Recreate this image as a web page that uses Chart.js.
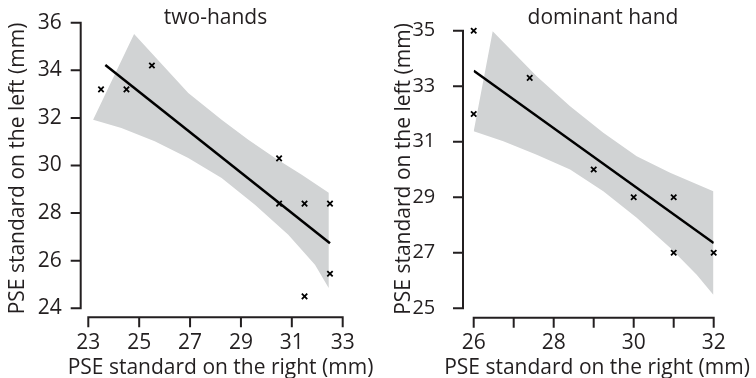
<!DOCTYPE html>
<html>
<head>
<meta charset="utf-8">
<script src="https://cdn.jsdelivr.net/npm/chart.js@4.4.0/dist/chart.umd.min.js"></script>
<style>
  html, body { margin: 0; padding: 0; background: #fff; }
  #wrap { position: relative; width: 756px; height: 378px; }
  .panel { position: absolute; top: 0; width: 378px; height: 378px; }
</style>
</head>
<body>
<div id="wrap">
  <div class="panel" style="left:0"><canvas id="chart-two" width="378" height="378"></canvas></div>
  <div class="panel" style="left:378px"><canvas id="chart-dom" width="378" height="378"></canvas></div>
</div>
<script>
// --- two-hands panel ---
var twoX = [23.5, 24.5, 25.5, 30.5, 30.5, 31.5, 32.5, 32.5, 31.5];
var twoY = [33.2, 33.2, 34.2, 30.3, 28.4, 28.4, 28.4, 25.45, 24.5];
var twoFitX = [23.67, 32.5];
var twoFitY = [34.22, 26.73];
var twoBandUpX = [24.8, 26.93, 28.24, 29.29, 30.34, 31.39, 32.45];
var twoBandUpY = [35.53, 33.05, 31.92, 31.08, 30.32, 29.61, 28.86];
var twoBandLoX = [23.19, 24.3, 25.61, 26.93, 28.24, 29.55, 30.86, 31.91, 32.45];
var twoBandLoY = [31.92, 31.58, 31.02, 30.32, 29.47, 28.35, 27.09, 25.83, 24.85];
var twoTicksX = [23, 25, 27, 29, 31, 33];
var twoTicksY = [24, 26, 28, 30, 32, 34, 36];

// --- dominant hand panel ---
var domX = [26, 26, 27.4, 29, 30, 31, 31, 32];
var domY = [35, 32, 33.3, 30, 29, 29, 27, 27];
var domFitX = [26, 32];
var domFitY = [33.56, 27.35];
var domBandUpX = [26.475, 27.575, 28.41, 29.24, 30.075, 30.91, 31.99];
var domBandUpY = [34.98, 33.36, 32.28, 31.32, 30.48, 29.88, 29.22];
var domBandLoX = [26.0, 26.74, 27.575, 28.41, 29.24, 30.075, 30.91, 31.575, 31.99];
var domBandLoY = [31.38, 31.02, 30.53, 30.0, 29.22, 28.26, 27.18, 26.21, 25.49];
var domTicksX = [26, 28, 30, 32];
var domMinorX = [27, 29, 31];
var domTicksY = [25, 27, 29, 31, 33, 35];

var X_TITLE = 'PSE standard on the right (mm)';
var Y_TITLE = 'PSE standard on the left (mm)';

var INK = '#231f20';
var FAMILY = "'Open Sans', sans-serif";

function pts(xs, ys) {
    return xs.map(function(x, i) { return {x: x, y: ys[i]}; });
}

// closed outline: upper edge left to right, then lower edge back
function band(upX, upY, loX, loY) {
    var out = pts(upX, upY).concat(pts(loX, loY).reverse());
    out.push(out[0]);
    return out;
}

// trimmed, detached axis lines + panel/axis titles
var spines = {
    id: 'spines',
    afterDraw: function(chart, args, o) {
        var ctx = chart.ctx, area = chart.chartArea;
        var xs = chart.scales.x, ys = chart.scales.y;
        ctx.save();
        ctx.strokeStyle = INK;
        ctx.lineWidth = 2;
        ctx.lineCap = 'square';
        ctx.beginPath();
        var sx = area.left - o.gapY;
        ctx.moveTo(sx, ys.getPixelForValue(o.yTicks[0]));
        ctx.lineTo(sx, ys.getPixelForValue(o.yTicks[o.yTicks.length - 1]));
        o.yTicks.forEach(function(v) {
            var p = ys.getPixelForValue(v);
            ctx.moveTo(sx, p);
            ctx.lineTo(sx - o.tick, p);
        });
        var sy = area.bottom + o.gapX;
        ctx.moveTo(xs.getPixelForValue(o.xTicks[0]), sy);
        ctx.lineTo(xs.getPixelForValue(o.xTicks[o.xTicks.length - 1]), sy);
        o.xTicks.concat(o.xMinor || []).forEach(function(v) {
            var p = xs.getPixelForValue(v);
            ctx.moveTo(p, sy);
            ctx.lineTo(p, sy + o.tick);
        });
        ctx.stroke();

        ctx.fillStyle = INK;
        ctx.font = '21px ' + FAMILY;
        ctx.textAlign = 'center';
        ctx.textBaseline = 'alphabetic';
        ctx.fillText(o.title, o.titleX, 24);
        ctx.fillText(X_TITLE, o.xTitleX, 373.5);
        ctx.translate(o.yTitleX, o.yTitleY);
        ctx.rotate(-Math.PI / 2);
        ctx.fillText(Y_TITLE, 0, 0);
        ctx.restore();
    }
};

function makeChart(id, c) {
    return new Chart(document.getElementById(id), {
        type: 'scatter',
        data: {
            datasets: [
                {
                    data: pts(c.x, c.y),
                    pointStyle: 'crossRot',
                    pointRadius: 3.8,
                    borderColor: '#000',
                    backgroundColor: '#000',
                    borderWidth: 1.8,
                    clip: false,
                    order: 1
                },
                {
                    data: pts(c.fitX, c.fitY),
                    showLine: true,
                    borderColor: '#000',
                    borderWidth: 2.5,
                    pointRadius: 0,
                    order: 2
                },
                {
                    data: band(c.upX, c.upY, c.loX, c.loY),
                    showLine: true,
                    fill: 'shape',
                    backgroundColor: '#d1d3d4',
                    borderColor: 'rgba(0,0,0,0)',
                    borderWidth: 0,
                    pointRadius: 0,
                    tension: 0,
                    order: 3
                }
            ]
        },
        options: {
            responsive: false,
            animation: false,
            events: [],
            layout: {padding: {left: 0, top: c.top, right: c.right, bottom: 0}},
            plugins: {
                legend: {display: false},
                tooltip: {enabled: false},
                spines: {
                    xTicks: c.ticksX, xMinor: c.minorX, yTicks: c.ticksY,
                    gapX: c.gapX, gapY: c.gapY, tick: 9,
                    title: c.title, titleX: c.titleX,
                    xTitleX: c.xTitleX, yTitleX: c.yTitleX, yTitleY: c.yTitleY
                }
            },
            scales: {
                x: {
                    type: 'linear',
                    min: c.ticksX[0],
                    max: c.ticksX[c.ticksX.length - 1],
                    grid: {display: false, drawTicks: false},
                    border: {display: false},
                    afterBuildTicks: function(s) { s.ticks = c.ticksX.map(function(v) { return {value: v}; }); },
                    afterFit: function(s) {
                        s.height = 69.7;
                        s.paddingLeft = 0;
                        s.paddingRight = 0;
                    },
                    ticks: {padding: 22, color: INK, font: {family: FAMILY, size: 21}, maxRotation: 0, autoSkip: false}
                },
                y: {
                    type: 'linear',
                    min: c.ticksY[0],
                    max: c.ticksY[c.ticksY.length - 1],
                    grid: {display: false, drawTicks: false},
                    border: {display: false},
                    afterBuildTicks: function(s) { s.ticks = c.ticksY.map(function(v) { return {value: v}; }); },
                    afterFit: function(s) {
                        s.width = c.left;
                        s.paddingTop = 0;
                        s.paddingBottom = 0;
                    },
                    ticks: {padding: c.yPad, color: INK, font: {family: FAMILY, size: c.ySize}, autoSkip: false}
                }
            }
        },
        plugins: [spines]
    });
}

makeChart('chart-two', {
    x: twoX, y: twoY, fitX: twoFitX, fitY: twoFitY,
    upX: twoBandUpX, upY: twoBandUpY, loX: twoBandLoX, loY: twoBandLoY,
    ticksX: twoTicksX, ticksY: twoTicksY,
    title: 'two-hands', titleX: 215.5, xTitleX: 220.5, yTitleX: 24, yTitleY: 168.5,
    left: 88.3, top: 22.7, right: 35.3,
    gapX: 9, gapY: 7.6, yPad: 26.5, ySize: 21
});

makeChart('chart-dom', {
    x: domX, y: domY, fitX: domFitX, fitY: domFitY,
    upX: domBandUpX, upY: domBandUpY, loX: domBandLoX, loY: domBandLoY,
    ticksX: domTicksX, minorX: domMinorX, ticksY: domTicksY,
    title: 'dominant hand', titleX: 225, xTitleX: 219, yTitleX: 32.3, yTitleY: 169,
    left: 95.7, top: 30.7, right: 42.3,
    gapX: 9.4, gapY: 10.7, yPad: 38.4, ySize: 20
});
</script>
</body>
</html>
